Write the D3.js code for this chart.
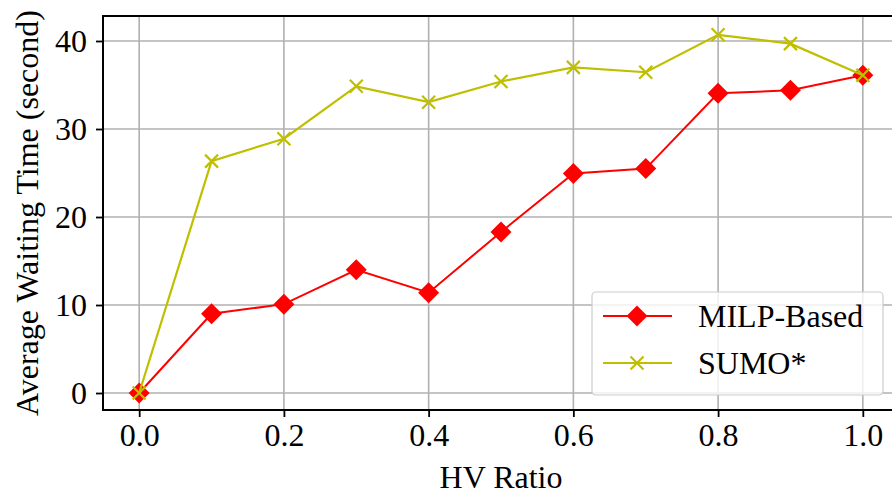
<!DOCTYPE html>
<html>
<head>
    <meta charset="UTF-8">
    <script src="https://d3js.org/d3.v7.min.js"></script>
    <style>
    body { margin: 0; background: #fff; }
    svg { display: block; }
    </style>
</head>
<body>
    <svg width="892" height="494"></svg>

    <script>
    // data
    var hvRatio = [0.0, 0.1, 0.2, 0.3, 0.4, 0.5, 0.6, 0.7, 0.8, 0.9, 1.0];
    var milp = [0.0, 9.0, 10.1, 14.0, 11.4, 18.3, 24.95, 25.5, 34.05, 34.4, 36.1];
    var sumo = [0.0, 26.35, 28.9, 34.85, 33.05, 35.4, 37.0, 36.45, 40.7, 39.7, 36.1];
    var xTicks = [0.0, 0.2, 0.4, 0.6, 0.8, 1.0];
    var yTicks = [0, 10, 20, 30, 40];
    var seriesNames = ['MILP-Based', 'SUMO*'];

    var plot = {left: 103, right: 899, top: 16, bottom: 410};
    var fontSize = 32;
    var font = 'Liberation Serif';

    const svg = d3.select('svg');

    const x = d3.scaleLinear()
      .domain([-0.05, 1.05])
      .range([plot.left, plot.right]);

    const y = d3.scaleLinear()
      .domain([-1.93, 42.84])
      .range([plot.bottom, plot.top]);

    // grid
    svg.append('g')
      .selectAll('line')
      .data(xTicks)
      .enter()
      .append('line')
      .attr('x1', d => x(d)).attr('x2', d => x(d))
      .attr('y1', plot.top).attr('y2', plot.bottom)
      .attr('stroke', '#b0b0b0').attr('stroke-width', 1.6);

    svg.append('g')
      .selectAll('line')
      .data(yTicks)
      .enter()
      .append('line')
      .attr('x1', plot.left).attr('x2', plot.right)
      .attr('y1', d => y(d)).attr('y2', d => y(d))
      .attr('stroke', '#b0b0b0').attr('stroke-width', 1.6);

    // axes
    const xAxis = svg.append('g')
      .attr('transform', `translate(0, ${plot.bottom})`)
      .call(d3.axisBottom(x).tickValues(xTicks).tickFormat(d3.format('.1f')).tickSizeInner(7).tickSizeOuter(0).tickPadding(6));

    const yAxis = svg.append('g')
      .attr('transform', `translate(${plot.left}, 0)`)
      .call(d3.axisLeft(y).tickValues(yTicks).tickSizeInner(7).tickSizeOuter(0).tickPadding(9));

    [xAxis, yAxis].forEach(function(g) {
      g.attr('font-family', font).attr('font-size', fontSize);
      g.select('.domain').remove();
      g.selectAll('.tick line').attr('stroke', '#000').attr('stroke-width', 1.8);
      g.selectAll('.tick text')
        .attr('font-family', font)
        .attr('font-size', fontSize)
        .attr('fill', '#000');
    });
    xAxis.selectAll('.tick text').attr('dy', '0.72em');
    yAxis.selectAll('.tick text').attr('dy', '0.34em');

    // frame (right edge falls outside the picture)
    svg.append('rect')
      .attr('x', plot.left).attr('y', plot.top)
      .attr('width', plot.right - plot.left).attr('height', plot.bottom - plot.top)
      .attr('fill', 'none').attr('stroke', '#000').attr('stroke-width', 2);

    // axis labels
    svg.append('text')
      .attr('x', x(0.5))
      .attr('y', 488)
      .attr('text-anchor', 'middle')
      .attr('font-family', font)
      .attr('font-size', fontSize)
      .text('HV Ratio');

    svg.append('text')
      .attr('transform', `translate(38, ${(plot.top + plot.bottom) / 2}) rotate(-90)`)
      .attr('text-anchor', 'middle')
      .attr('font-family', font)
      .attr('font-size', fontSize)
      .text('Average Waiting Time (second)');

    // series
    var milpPts = hvRatio.map((d, i) => [d, milp[i]]);
    var sumoPts = hvRatio.map((d, i) => [d, sumo[i]]);
    const line = d3.line().x(d => x(d[0])).y(d => y(d[1]));

    var diamond = function(r) { return `M0,${-r}L${r},0L0,${r}L${-r},0Z`; };
    var cross = function(r) { return `M${-r},${-r}L${r},${r}M${-r},${r}L${r},${-r}`; };

    const g = svg.append('g');

    g.append('path')
      .datum(milpPts)
      .attr('d', line)
      .attr('fill', 'none').attr('stroke', '#ff0000').attr('stroke-width', 2);

    g.selectAll('.milp')
      .data(milpPts)
      .enter()
      .append('path')
      .attr('class', 'milp')
      .attr('transform', d => `translate(${x(d[0])}, ${y(d[1])})`)
      .attr('d', diamond(10.5))
      .attr('fill', '#ff0000');

    g.append('path')
      .datum(sumoPts)
      .attr('d', line)
      .attr('fill', 'none').attr('stroke', '#bfbf00').attr('stroke-width', 2.2);

    g.selectAll('.sumo')
      .data(sumoPts)
      .enter()
      .append('path')
      .attr('class', 'sumo')
      .attr('transform', d => `translate(${x(d[0])}, ${y(d[1])})`)
      .attr('d', cross(6.5))
      .attr('fill', 'none').attr('stroke', '#bfbf00').attr('stroke-width', 2.2);

    // legend
    const legend = svg.append('g');
    legend.append('rect')
      .attr('x', 592).attr('y', 292)
      .attr('width', 291).attr('height', 103)
      .attr('rx', 4)
      .attr('fill', '#fff').attr('fill-opacity', 0.8)
      .attr('stroke', '#cccccc').attr('stroke-width', 1.2);

    var legendY = [316, 363];
    var legendColors = ['#ff0000', '#bfbf00'];
    seriesNames.forEach(function(name, i) {
      legend.append('line')
        .attr('x1', 603).attr('x2', 672)
        .attr('y1', legendY[i]).attr('y2', legendY[i])
        .attr('stroke', legendColors[i]).attr('stroke-width', 2);
      legend.append('path')
        .attr('transform', `translate(637, ${legendY[i]})`)
        .attr('d', i === 0 ? diamond(10.5) : cross(6.5))
        .attr('fill', i === 0 ? legendColors[i] : 'none')
        .attr('stroke', i === 0 ? 'none' : legendColors[i])
        .attr('stroke-width', 2.2);
      legend.append('text')
        .attr('x', 698)
        .attr('y', legendY[i] + 11)
        .attr('font-family', font)
        .attr('font-size', fontSize)
        .text(name);
    });
    </script>
</body>
</html>
